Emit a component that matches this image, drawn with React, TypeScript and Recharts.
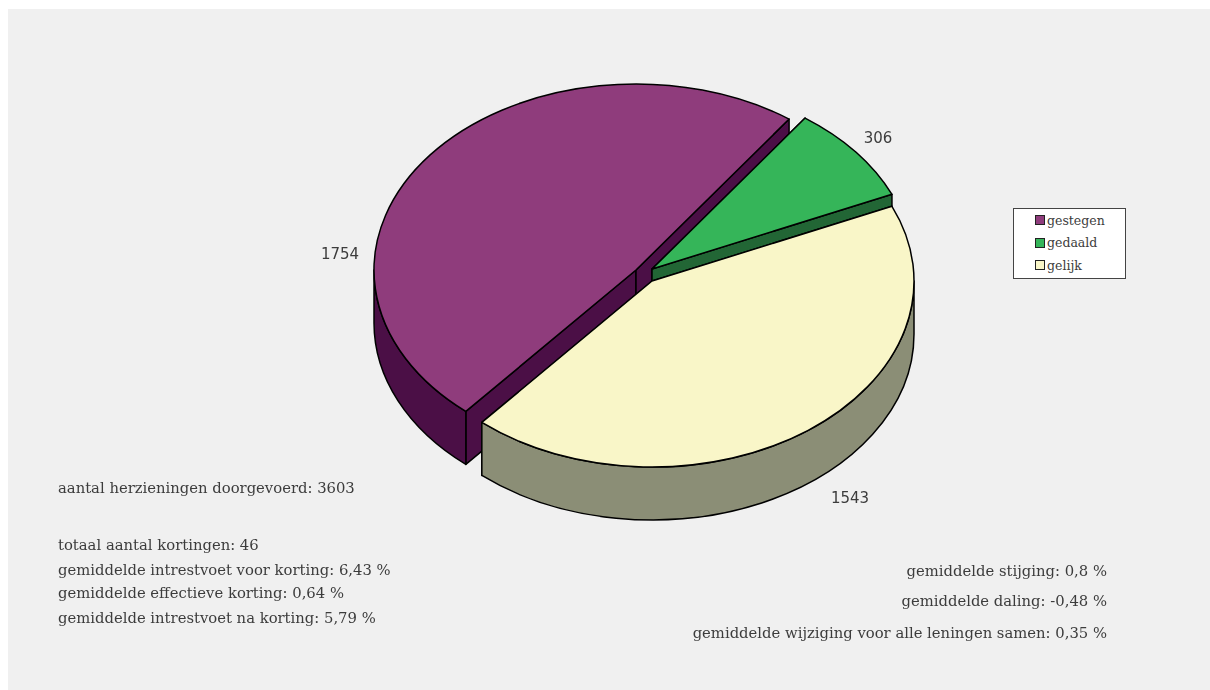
import React from "react";
import { PieChart, Pie, Legend } from "recharts";

// Loan revisions by direction of the rate change
const categories = ["gestegen", "gedaald", "gelijk"];
const counts = [1754, 306, 1543];
const topColors = ["#8f3c7c", "#35b559", "#f9f6c8"];
const wallColors = ["#4b0f46", "#226635", "#8b8e76"];

// How far each slice is pulled away from the pie centre
const explodeX = [-16, 0, 0];
const explodeY = [-11, -12, 0];
// Where each value label sits relative to the pie centre
const labelX = [-312, 226, 198];
const labelY = [-27, -143, 217];

const leftNotes = [
  { text: "aantal herzieningen doorgevoerd: 3603", y: 488 },
  { text: "totaal aantal kortingen: 46", y: 545 },
  { text: "gemiddelde intrestvoet voor korting: 6,43 %", y: 570 },
  { text: "gemiddelde effectieve korting: 0,64 %", y: 593 },
  { text: "gemiddelde intrestvoet na korting: 5,79 %", y: 618 },
];
const rightNotes = [
  { text: "gemiddelde stijging: 0,8 %", y: 571 },
  { text: "gemiddelde daling: -0,48 %", y: 601 },
  { text: "gemiddelde wijziging voor alle leningen samen: 0,35 %", y: 633 },
];

const rows = categories.map((name, i) => ({
  name,
  value: counts[i],
  fill: topColors[i],
  wall: wallColors[i],
  dx: explodeX[i],
  dy: explodeY[i],
  lx: labelX[i],
  ly: labelY[i],
}));

const FONT = "'DejaVu Serif', serif";
const INK = "#3c3c3c";
const TILT = 186 / 262; // vertical squash of the pie disc
const DEPTH = 53; // thickness of the disc in pixels
const PIE_X = 644;
const PIE_Y = 273;

// One slice of the tilted disc: radial walls, outer wall, then the top face.
function Slice3D(props: any) {
  const { cx, cy, outerRadius: r, startAngle, endAngle, fill } = props;
  const row = props.payload ?? props;
  const ox = cx + row.dx;
  const oy = cy + row.dy;
  const ry = r * TILT;
  const at = (deg: number): [number, number] => {
    const a = (deg * Math.PI) / 180;
    return [ox + r * Math.cos(a), oy - ry * Math.sin(a)];
  };
  const [sx, sy] = at(startAngle);
  const [ex, ey] = at(endAngle);
  const large = Math.abs(startAngle - endAngle) > 180 ? 1 : 0;
  const top = `M${ox},${oy} L${sx},${sy} A${r},${ry} 0 ${large} 1 ${ex},${ey} Z`;
  const radial = (x: number, y: number) =>
    `M${ox},${oy} L${x},${y} L${x},${y + DEPTH} L${ox},${oy + DEPTH} Z`;

  // The outer wall shows only where the rim faces the viewer (angles 180 to 360, or -180 to 0).
  const spans: [number, number][] = [];
  for (const [upper, lower] of [
    [360, 180],
    [0, -180],
  ]) {
    const hi = Math.min(startAngle, upper);
    const lo = Math.max(endAngle, lower);
    if (hi > lo) spans.push([hi, lo]);
  }
  const walls = spans.map(([hi, lo]) => {
    const [x1, y1] = at(hi);
    const [x2, y2] = at(lo);
    return `M${x1},${y1} A${r},${ry} 0 0 1 ${x2},${y2} L${x2},${y2 + DEPTH} A${r},${ry} 0 0 0 ${x1},${y1 + DEPTH} Z`;
  });

  const line = { stroke: "#000", strokeWidth: 1.5, strokeLinejoin: "round" as const };
  return (
    <g>
      <path d={radial(sx, sy)} fill={row.wall} {...line} />
      <path d={radial(ex, ey)} fill={row.wall} {...line} />
      {walls.map((d, i) => (
        <path key={i} d={d} fill={row.wall} {...line} />
      ))}
      <path d={top} fill={fill} {...line} />
    </g>
  );
}

function ValueLabel(props: any) {
  const { cx, cy, value, payload } = props;
  return (
    <text
      x={cx + payload.lx}
      y={cy + payload.ly}
      textAnchor="middle"
      dominantBaseline="central"
      fontFamily="'DejaVu Sans', sans-serif"
      fontSize={15}
      fill={INK}
    >
      {value}
    </text>
  );
}

function LegendBox({ payload }: any) {
  return (
    <div
      style={{
        boxSizing: "border-box",
        width: 113,
        height: 71,
        background: "#fff",
        border: "1px solid #444",
        fontFamily: FONT,
        fontSize: 12.5,
        color: INK,
      }}
    >
      {(payload ?? []).map((e: any) => (
        <div key={e.value} style={{ display: "flex", alignItems: "center", height: 22.5, paddingLeft: 21 }}>
          <span
            style={{
              boxSizing: "border-box",
              width: 10,
              height: 10,
              marginRight: 2,
              background: e.color,
              border: "1px solid #222",
            }}
          />
          {e.value}
        </div>
      ))}
    </div>
  );
}

function Note({ text, y, right }: { text: string; y: number; right?: boolean }) {
  const pos = right ? { right: 1202 - (1107 - 8) } : { left: 58 - 8 };
  return (
    <div
      style={{
        position: "absolute",
        top: y - 8 - 10,
        height: 20,
        lineHeight: "20px",
        whiteSpace: "nowrap",
        fontFamily: FONT,
        fontSize: 14.8,
        color: INK,
        ...pos,
      }}
    >
      {text}
    </div>
  );
}

export default function App() {
  return (
    <div style={{ position: "relative", width: 1194, height: 674 }}>
      <div style={{ position: "fixed", left: 8, top: 9, right: 0, bottom: 0, background: "#f0f0f0" }} />
      <div style={{ position: "absolute", left: 0, top: 0 }}>
        <PieChart width={1194} height={674} margin={{ top: 0, right: 0, bottom: 0, left: 0 }}>
          <Pie
            data={rows}
            dataKey="value"
            nameKey="name"
            cx={PIE_X}
            cy={PIE_Y}
            outerRadius={262}
            startAngle={229.5}
            endAngle={-130.5}
            paddingAngle={0}
            stroke="#000"
            shape={Slice3D}
            label={ValueLabel}
            labelLine={false}
            isAnimationActive={false}
          />
          <Legend
            content={LegendBox}
            itemSorter={null}
            wrapperStyle={{ position: "absolute", left: 1005, top: 200, width: 113, height: 71 }}
          />
        </PieChart>
      </div>
      <div style={{ position: "absolute", left: 0, top: 0, width: 1202, height: 674 }}>
        {leftNotes.map((n) => (
          <Note key={n.text} text={n.text} y={n.y} />
        ))}
        {rightNotes.map((n) => (
          <Note key={n.text} text={n.text} y={n.y} right />
        ))}
      </div>
    </div>
  );
}
